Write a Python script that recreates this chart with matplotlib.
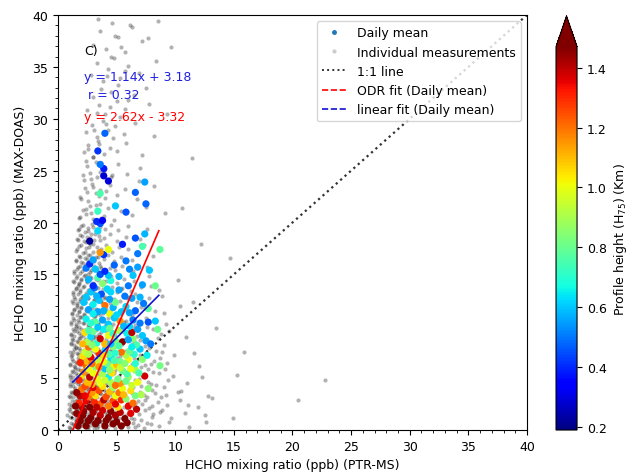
import numpy as np
import matplotlib
matplotlib.use('Agg')
import matplotlib.pyplot as plt
from matplotlib.lines import Line2D
from matplotlib.ticker import MultipleLocator

ind_low = [
    (0.9,0.3),(1.1,0.7),(1.2,0.1),(1.4,0.5),(1.5,0.9),(1.7,0.2),(1.8,0.6),(2.0,0.4),(2.1,0.8),(2.3,0.3),(2.4,0.7),(2.6,0.1),
    (2.8,0.5),(2.9,0.9),(3.1,0.2),(3.3,0.6),(3.4,0.4),(3.6,0.8),(3.8,0.3),(4.0,0.7),(4.2,0.1),(4.4,0.5),(4.6,0.9),(4.9,0.2),
    (5.1,0.6),(5.4,0.4),(5.7,0.8),(6.0,0.3),(6.4,0.7),(6.8,0.5),(7.3,0.2),(7.9,0.6),(8.6,0.4),(9.5,0.8),(11.2,0.3),
    (0.8,1.4),(1.0,1.8),(1.2,1.2),(1.3,1.6),(1.5,1.1),(1.6,1.9),(1.8,1.5),(2.0,1.3),(2.2,1.7),(2.3,1.1),(2.5,1.5),(2.7,1.9),
    (2.9,1.3),(3.0,1.7),(3.2,1.2),(3.4,1.6),(3.6,1.4),(3.8,1.8),(4.0,1.1),(4.2,1.5),(4.4,1.9),(4.7,1.3),(4.9,1.7),(5.2,1.2),
    (5.5,1.6),(5.8,1.4),(6.1,1.8),(6.5,1.1),(6.9,1.5),(7.4,1.9),(8.0,1.3),(8.7,1.7),(9.6,1.2),(10.8,1.6),(12.5,1.4),
    (0.9,2.5),(1.1,2.2),(1.2,2.8),(1.4,2.4),(1.6,2.9),(1.7,2.1),(1.9,2.6),(2.1,2.3),(2.3,2.8),(2.5,2.2),(2.7,2.6),(2.9,2.9),
    (3.1,2.4),(3.3,2.1),(3.5,2.7),(3.7,2.3),(3.9,2.8),(4.2,2.5),(4.4,2.1),(4.7,2.7),(5.0,2.4),(5.3,2.9),(5.6,2.2),(6.0,2.6),
    (6.4,2.3),(6.8,2.8),(7.2,2.5),(7.8,2.1),(8.5,2.7),(9.3,2.4),(10.4,2.9),(11.9,2.2),
    (0.9,3.3),(1.1,3.7),(1.3,3.2),(1.4,3.8),(1.6,3.5),(1.8,3.1),(2.0,3.6),(2.2,3.9),(2.4,3.4),(2.6,3.8),(2.8,3.2),(3.0,3.6),
    (3.2,3.3),(3.4,3.9),(3.7,3.5),(3.9,3.1),(4.1,3.7),(4.4,3.4),(4.7,3.8),(5.0,3.2),(5.3,3.6),(5.7,3.4),(6.1,3.9),(6.5,3.3),
    (7.0,3.7),(7.6,3.2),(8.3,3.6),(9.2,3.4),(10.5,3.8),(12.8,3.3),
    (1.0,4.4),(1.1,4.8),(1.3,4.2),(1.5,4.6),(1.7,4.9),(1.9,4.3),(2.1,4.7),(2.3,4.1),(2.5,4.5),(2.7,4.9),(2.9,4.3),(3.2,4.7),
    (3.4,4.2),(3.6,4.6),(3.9,4.4),(4.1,4.8),(4.4,4.2),(4.7,4.6),(5.0,4.9),(5.3,4.3),(5.7,4.7),(6.1,4.4),(6.6,4.8),(7.1,4.2),
    (7.7,4.6),(8.4,4.3),(9.4,4.8),(11.0,4.5),
    (1.0,5.3),(1.2,5.7),(1.3,5.1),(1.5,5.5),(1.7,5.9),(1.9,5.2),(2.1,5.6),(2.3,5.4),(2.6,5.8),(2.8,5.2),(3.0,5.6),(3.3,5.3),
    (3.5,5.9),(3.8,5.5),(4.0,5.1),(4.3,5.7),(4.6,5.4),(4.9,5.8),(5.2,5.2),(5.6,5.6),(6.0,5.3),(6.5,5.7),(7.0,5.4),(7.7,5.9),
    (8.6,5.5),(9.8,5.2),
    (1.0,6.4),(1.2,6.8),(1.4,6.2),(1.5,6.6),(1.7,6.9),(1.9,6.3),(2.1,6.7),(2.4,6.1),(2.6,6.5),(2.8,6.9),(3.1,6.4),(3.3,6.8),
    (3.6,6.2),(3.8,6.6),(4.1,6.3),(4.4,6.7),(4.7,6.5),(5.0,6.9),(5.4,6.2),(5.8,6.6),(6.3,6.4),(6.8,6.8),(7.4,6.3),(8.2,6.7),
    (9.3,6.5),
    (1.0,7.5),(1.2,7.2),(1.4,7.8),(1.6,7.4),(1.8,7.9),(2.0,7.3),(2.2,7.7),(2.4,7.1),(2.7,7.5),(2.9,7.9),(3.2,7.4),(3.4,7.8),
    (3.7,7.2),(3.9,7.6),(4.2,7.3),(4.5,7.7),(4.9,7.5),(5.3,7.1),(5.7,7.6),(6.2,7.3),(6.8,7.8),(7.5,7.4),(8.4,7.6),(9.9,7.2),
    (1.1,8.4),(1.2,8.8),(1.4,8.2),(1.6,8.6),(1.8,8.9),(2.0,8.3),(2.3,8.7),(2.5,8.1),(2.7,8.5),(3.0,8.9),(3.2,8.3),(3.5,8.7),
    (3.8,8.4),(4.1,8.8),(4.4,8.2),(4.8,8.6),(5.2,8.4),(5.7,8.8),(6.3,8.3),(7.0,8.7),(7.8,8.5),(9.0,8.2),
    (1.1,9.3),(1.3,9.7),(1.4,9.1),(1.6,9.5),(1.8,9.9),(2.0,9.2),(2.2,9.6),(2.5,9.4),(2.7,9.8),(3.0,9.2),(3.2,9.6),(3.5,9.3),
    (3.8,9.7),(4.1,9.5),(4.5,9.9),(4.9,9.2),(5.3,9.6),(5.8,9.4),(6.4,9.8),(7.2,9.3),(8.1,9.7),(9.5,9.5),
]
ind_mid = [
    (1.1,10.4),(1.3,10.8),(1.5,10.2),(1.7,10.6),(1.9,10.9),(2.1,10.3),(2.4,10.7),(2.6,10.1),(2.9,10.5),(3.1,10.9),(3.4,10.3),
    (3.7,10.7),(4.0,10.4),(4.3,10.8),(4.7,10.2),(5.1,10.6),(5.6,10.4),(6.2,10.8),(7.0,10.3),(8.3,10.6),
    (1.2,11.3),(1.4,11.7),(1.6,11.1),(1.8,11.5),(2.0,11.9),(2.2,11.2),(2.4,11.6),(2.7,11.4),(2.9,11.8),(3.2,11.2),(3.5,11.6),
    (3.8,11.3),(4.1,11.7),(4.4,11.5),(4.8,11.9),(5.3,11.2),(5.8,11.6),(6.5,11.4),(7.4,11.8),(9.0,11.3),
    (1.2,12.4),(1.4,12.8),(1.6,12.2),(1.9,12.6),(2.1,12.9),(2.3,12.3),(2.6,12.7),(2.8,12.1),(3.1,12.5),(3.4,12.9),(3.7,12.4),
    (4.0,12.8),(4.4,12.2),(4.8,12.6),(5.3,12.4),(5.9,12.8),(6.7,12.3),(7.8,12.7),
    (1.3,13.3),(1.5,13.7),(1.7,13.1),(1.9,13.5),(2.2,13.9),(2.4,13.2),(2.7,13.6),(2.9,13.4),(3.2,13.8),(3.5,13.2),(3.8,13.6),
    (4.2,13.4),(4.6,13.8),(5.0,13.3),(5.5,13.7),(6.2,13.4),(7.1,13.8),(8.6,13.5),
    (1.3,14.4),(1.6,14.8),(1.8,14.2),(2.0,14.6),(2.3,14.9),(2.5,14.3),(2.8,14.7),(3.1,14.1),(3.4,14.5),(3.7,14.9),(4.1,14.4),
    (4.5,14.8),(5.0,14.2),(5.6,14.6),(6.5,14.4),(7.8,14.8),
    (1.4,15.3),(1.7,15.7),(1.9,15.1),(2.2,15.5),(2.4,15.9),(2.7,15.2),(3.0,15.6),(3.3,15.4),(3.6,15.8),(4.0,15.2),(4.4,15.6),
    (4.9,15.4),(5.5,15.8),(6.4,15.3),(7.6,15.7),
    (1.5,16.4),(1.8,16.8),(2.0,16.2),(2.3,16.6),(2.6,16.9),(2.9,16.3),(3.2,16.7),(3.5,16.1),(3.9,16.5),(4.3,16.9),(4.8,16.3),
    (5.4,16.7),(6.3,16.4),(8.1,16.8),
    (1.5,17.3),(1.8,17.7),(2.1,17.1),(2.4,17.5),(2.7,17.9),(3.0,17.2),(3.3,17.6),(3.7,17.4),(4.1,17.8),(4.6,17.2),(5.2,17.6),
    (6.0,17.4),(7.3,17.8),
    (1.6,18.4),(1.9,18.8),(2.2,18.2),(2.5,18.6),(2.8,18.9),(3.1,18.3),(3.5,18.7),(3.9,18.5),(4.4,18.9),(5.0,18.2),(5.8,18.6),
    (7.0,18.4),
    (1.7,19.3),(2.0,19.7),(2.3,19.1),(2.6,19.5),(2.9,19.9),(3.2,19.2),(3.6,19.6),(4.0,19.4),(4.5,19.8),(5.1,19.3),(6.0,19.7),
    (7.6,19.4),
]
ind_high = [
    (1.8,20.4),(2.1,21.2),(2.4,20.8),(2.7,21.6),(3.0,20.3),(3.3,21.0),(3.6,21.8),(3.9,20.6),(4.3,21.4),(4.8,20.2),(5.4,21.1),
    (6.3,20.7),(7.5,21.5),(9.1,20.9),
    (1.9,22.5),(2.3,23.3),(2.6,22.1),(2.9,23.7),(3.2,22.8),(3.6,23.1),(4.0,22.4),(4.4,23.6),(5.0,22.7),(5.7,23.2),(6.7,22.3),
    (8.2,23.5),
    (2.1,24.6),(2.5,25.4),(2.8,24.2),(3.2,25.8),(3.6,24.9),(4.0,25.2),(4.5,24.4),(5.1,25.6),(5.9,24.7),(7.0,25.3),
    (2.2,26.8),(2.6,27.5),(3.0,26.3),(3.4,27.9),(3.9,26.6),(4.4,27.2),(5.0,26.9),(5.8,27.7),(7.2,26.5),
    (2.4,28.7),(2.9,29.4),(3.3,28.2),(3.8,29.8),(4.3,28.9),(4.9,29.3),(5.6,28.5),(6.6,29.6),
    (2.5,30.8),(3.0,32.1),(3.5,31.3),(4.0,30.5),(4.5,32.6),(5.0,31.7),(5.7,30.9),(6.5,32.3),(7.8,31.4),
    (2.8,34.2),(3.3,35.4),(3.8,33.6),(4.3,34.8),(4.8,35.9),(5.3,33.9),(6.0,35.1),(6.9,34.4),(8.4,35.6),
    (3.0,37.1),(3.6,38.5),(4.1,36.7),(4.6,39.2),(5.1,37.9),(5.7,36.4),(6.3,38.8),(7.2,37.5),(8.5,39.4),(9.6,36.9),
    (2.6,27.1),(3.5,27.6),(4.7,28.1),(3.1,28.9),(4.1,29.5),(5.3,30.2),(3.3,30.6),(4.4,31.1),(6.0,31.8),(3.7,32.9),
    (5.1,33.3),(4.2,34.1),(5.7,34.6),(4.5,36.0),(5.4,36.9),(4.9,38.0),(6.1,39.0),(3.4,39.6),(7.5,33.0),(8.2,28.3),
    (6.9,24.0),(9.3,30.5),(7.7,37.8),
]
# the near-black core of the cloud
ind_core = [
    (1.05,0.15),(1.3,0.55),(1.55,0.85),(1.8,0.35),(2.05,0.65),(2.3,0.95),(2.55,0.25),(2.8,0.75),(3.05,0.45),(3.3,0.15),
    (3.55,0.85),(3.8,0.55),(4.05,0.25),(4.35,0.95),(4.65,0.45),(5.0,0.75),(5.35,0.15),
    (1.0,1.25),(1.25,1.65),(1.5,1.35),(1.75,1.05),(2.0,1.85),(2.25,1.45),(2.5,1.15),(2.75,1.75),(3.0,1.55),(3.25,1.95),
    (3.5,1.05),(3.75,1.45),(4.0,1.75),(4.3,1.25),(4.6,1.65),(4.95,1.05),(5.3,1.85),
    (0.95,2.05),(1.2,2.45),(1.45,2.75),(1.7,2.35),(1.95,2.95),(2.2,2.15),(2.45,2.55),(2.7,2.85),(2.95,2.15),(3.2,2.65),
    (3.45,2.35),(3.7,2.95),(4.0,2.45),(4.3,2.75),(4.6,2.25),(4.95,2.55),(5.3,2.05),
    (1.0,3.15),(1.2,3.55),(1.45,3.85),(1.65,3.25),(1.9,3.65),(2.15,3.05),(2.35,3.45),(2.6,3.95),(2.85,3.35),(3.1,3.75),
    (3.35,3.15),(3.6,3.55),(3.9,3.85),(4.2,3.25),(4.5,3.65),(4.85,3.05),
    (1.0,4.25),(1.25,4.65),(1.45,4.05),(1.7,4.45),(1.9,4.85),(2.15,4.35),(2.4,4.75),(2.6,4.15),(2.85,4.55),(3.1,4.95),
    (3.35,4.35),(3.6,4.75),(3.85,4.15),(4.15,4.55),(4.45,4.85),(4.8,4.35),
    (1.05,5.15),(1.25,5.55),(1.45,5.85),(1.65,5.35),(1.9,5.75),(2.1,5.05),(2.35,5.45),(2.55,5.95),(2.8,5.35),(3.05,5.65),
    (3.3,5.05),(3.55,5.45),(3.8,5.85),(4.1,5.25),(4.4,5.65),(4.75,5.45),
    (1.05,6.25),(1.25,6.65),(1.45,6.05),(1.65,6.45),(1.85,6.85),(2.05,6.35),(2.3,6.75),(2.5,6.15),(2.75,6.55),(3.0,6.95),
    (3.25,6.25),(3.5,6.65),(3.75,6.05),(4.05,6.45),(4.35,6.85),(4.7,6.25),
    (1.1,7.15),(1.3,7.55),(1.5,7.95),(1.7,7.35),(1.9,7.75),(2.1,7.05),(2.35,7.45),(2.55,7.85),(2.8,7.25),(3.05,7.65),
    (3.3,7.05),(3.55,7.45),(3.8,7.85),(4.1,7.25),(4.45,7.65),
    (1.1,8.25),(1.3,8.65),(1.5,8.05),(1.7,8.45),(1.9,8.85),(2.1,8.35),(2.35,8.75),(2.55,8.15),(2.8,8.55),(3.05,8.95),
    (3.3,8.25),(3.6,8.65),(3.9,8.05),(4.2,8.45),
    (1.15,9.15),(1.35,9.55),(1.55,9.85),(1.75,9.35),(1.95,9.75),(2.15,9.05),(2.4,9.45),(2.6,9.85),(2.85,9.25),(3.1,9.65),
    (3.35,9.05),(3.65,9.45),(3.95,9.85),(4.25,9.25),
    (1.15,10.25),(1.35,10.65),(1.55,10.05),(1.75,10.45),(1.95,10.85),(2.2,10.35),(2.4,10.75),(2.65,10.15),(2.9,10.55),
    (3.15,10.95),(3.45,10.25),(3.75,10.65),(4.05,10.05),
    (1.2,11.15),(1.4,11.55),(1.6,11.85),(1.8,11.35),(2.0,11.75),(2.25,11.05),(2.5,11.45),(2.7,11.85),(2.95,11.25),
    (3.25,11.65),(3.55,11.05),(3.85,11.45),
    (1.25,12.25),(1.45,12.65),(1.65,12.05),(1.85,12.45),(2.05,12.85),(2.3,12.35),(2.55,12.75),(2.8,12.15),(3.05,12.55),
    (3.35,12.95),(3.65,12.35),(3.95,12.75),
    (1.3,13.15),(1.5,13.55),(1.7,13.85),(1.9,13.35),(2.1,13.75),(2.35,13.05),(2.6,13.45),(2.85,13.85),(3.1,13.25),
    (3.4,13.65),(3.7,13.05),
    (1.35,14.25),(1.55,14.65),(1.75,14.05),(1.95,14.45),(2.2,14.85),(2.45,14.35),(2.7,14.75),(2.95,14.15),(3.25,14.55),
    (3.55,14.95),(3.85,14.35),
    (1.4,15.15),(1.6,15.55),(1.85,15.85),(2.05,15.35),(2.3,15.75),(2.55,15.05),(2.8,15.45),(3.1,15.85),(3.4,15.25),
    (3.7,15.65),
    (1.5,16.3),(1.85,16.7),(2.15,16.1),(2.45,16.5),(2.75,16.9),(3.1,16.3),(3.45,16.7),(1.6,17.4),(1.95,17.8),(2.3,17.2),
    (2.65,17.6),(3.0,17.9),(3.4,17.3),(1.7,18.3),(2.05,18.7),(2.4,18.1),(2.75,18.5),(3.15,18.9),(3.6,18.3),(1.8,19.4),
    (2.15,19.8),(2.55,19.2),(2.95,19.6),(3.4,19.1),
    (1.9,20.5),(2.35,21.3),(2.8,20.9),(3.25,21.7),(3.7,20.4),(2.0,22.3),(2.5,22.9),(3.0,23.4),(3.5,22.6),(4.1,23.0),
    (2.2,24.1),(2.7,24.8),(3.3,24.4),(3.9,25.0),(4.6,24.6),(2.4,25.9),(3.0,26.3),(3.7,25.7),
]
# right-hand shoulder of the cloud and lone outliers
ind_far = [
    (5.6,0.6),(6.2,1.2),(6.6,0.3),(7.1,1.0),(7.6,0.7),(8.1,1.5),(5.9,2.1),(6.6,2.5),(7.4,2.9),(8.0,2.3),(8.9,1.9),
    (5.8,3.1),(6.3,3.6),(7.3,3.4),(8.0,3.9),(8.8,3.2),(5.5,4.4),(6.4,4.1),(6.9,4.9),(7.9,4.4),(9.0,4.1),(5.7,5.5),
    (6.3,5.9),(7.3,5.2),(8.1,5.6),(9.1,5.9),(5.6,6.5),(6.5,6.9),(7.1,6.1),(7.9,6.4),(8.7,6.9),(5.4,7.4),(6.1,7.9),
    (7.0,7.2),(7.8,7.9),(8.9,7.5),(5.5,8.3),(6.5,8.6),(7.4,8.1),(8.5,8.9),(5.6,9.4),(6.7,9.1),(7.6,9.9),(8.8,9.3),
    (5.8,10.5),(6.6,10.1),(7.5,10.8),(9.2,10.2),(5.5,11.6),(6.3,11.1),(7.1,11.9),(8.3,11.5),(5.9,12.7),(7.2,12.4),
    (8.9,12.9),(5.4,13.6),(6.6,13.1),(7.9,13.9),(10.4,12.0),(10.9,9.0),(11.6,7.4),(10.2,3.7),(11.1,2.4),(12.3,5.1),
    (12.0,6.2),(13.5,9.8),(14.7,16.6),(15.3,5.3),(15.9,7.5),(14.9,1.2),(20.5,2.9),(22.8,4.8),(11.5,12.3),(12.2,17.9),
    (10.6,21.4),(11.4,26.2),(13.1,3.1),(10.2,14.5),(12.6,0.8),
]

# daily means: (PTR-MS, MAX-DOAS, profile height H75 in km)
mean_low = [
    (1.7,0.4,1.5),(2.4,0.4,1.5),(3.2,0.6,1.5),(4.0,0.4,1.5),(4.7,0.6,1.5),(5.4,0.4,1.5),
    (2.1,1.4,1.5),(2.8,1.2,1.48),(3.6,1.4,1.4),(4.3,1.2,1.5),(4.9,1.4,1.42),(5.7,1.1,1.5),
    (1.9,0.9,1.5),(2.2,1.8,1.45),(2.6,0.9,1.5),(3.0,1.7,1.42),(3.4,0.9,1.5),(3.8,1.9,1.38),(4.1,0.9,1.5),(4.5,1.8,1.45),
    (5.0,0.8,1.5),(5.3,1.7,1.4),(5.9,0.7,1.5),(6.2,1.6,1.35),(1.6,1.6,1.45),(6.7,2.0,1.4),
    (2.0,2.3,1.4),(2.7,2.2,1.47),(3.6,2.5,1.22),(4.3,2.3,1.18),(5.1,2.2,1.05),(6.0,2.3,1.35),
    (2.4,2.8,1.35),(3.1,2.7,1.3),(3.9,2.9,1.4),(4.7,2.8,1.25),(5.4,2.9,1.3),(1.8,2.6,1.3),
    (1.9,3.3,1.4),(2.6,3.2,1.2),(3.2,3.3,1.05),(4.1,3.2,1.25),(4.9,3.3,1.0),(5.8,3.0,0.85),(6.6,3.3,0.82),
    (2.9,3.6,1.15),(3.5,3.8,1.25),(4.4,3.7,1.1),(5.2,3.6,1.2),(6.2,3.8,1.05),(2.0,3.9,1.2),
    (2.3,4.2,1.25),(3.0,4.1,1.35),(3.8,4.2,1.05),(4.7,4.1,0.88),(5.5,4.0,1.0),(7.7,4.0,0.85),
    (2.5,4.6,1.1),(3.6,4.5,1.0),(4.5,4.6,0.9),(5.3,4.5,1.15),(6.3,4.3,0.95),(6.8,4.6,1.0),
    (1.6,3.6,1.45),(1.5,2.3,1.5),(2.3,3.3,1.35),(3.3,2.2,1.4),(4.9,2.5,1.35),(5.6,3.4,1.1),(6.4,2.6,1.2),(7.1,3.4,0.9),
]
mean_mid = [
    (2.0,5.2,1.05),(2.7,5.1,1.4),(3.4,4.9,0.98),(4.3,5.1,0.65),(5.1,4.9,0.82),(6.0,5.1,0.88),(7.4,5.2,1.38),
    (2.2,5.6,1.15),(3.0,5.5,1.0),(3.8,5.4,0.9),(4.6,5.5,1.05),(5.9,5.4,0.75),(6.6,5.8,0.9),
    (2.4,6.2,1.22),(3.2,6.1,0.85),(4.0,5.9,0.6),(4.7,6.1,1.0),(5.5,5.7,0.8),(6.2,5.9,1.0),(8.7,6.2,0.82),
    (2.5,6.6,1.1),(3.3,6.5,0.95),(4.2,6.4,0.8),(5.0,6.3,1.1),(6.6,6.4,0.7),(7.2,6.8,0.85),
    (2.1,7.1,1.05),(2.8,7.0,1.35),(3.7,6.8,0.92),(4.5,7.0,0.62),(5.3,6.6,0.8),(6.0,6.8,1.0),
    (2.3,7.5,0.95),(3.5,7.4,1.3),(4.4,7.3,0.75),(5.8,7.2,0.9),(6.5,7.3,0.7),(7.6,7.2,0.65),
    (2.6,8.0,1.2),(3.2,7.8,1.0),(4.0,7.6,0.65),(4.7,8.0,0.85),(5.4,7.5,1.2),(6.1,7.6,0.8),(7.0,7.8,0.6),
    (2.5,8.5,0.9),(3.3,8.4,0.7),(4.0,8.3,1.1),(6.7,8.2,0.75),(7.5,8.6,0.55),(7.9,8.3,0.5),
    (2.3,9.4,1.05),(2.8,9.0,0.62),(3.6,8.8,1.38),(4.3,9.1,1.0),(4.9,8.6,0.82),(5.5,8.5,1.45),(6.4,8.8,0.85),(7.2,9.1,0.6),
    (3.0,9.5,0.8),(3.9,9.7,0.65),(4.7,9.3,0.7),(5.2,9.6,0.9),(5.9,9.3,0.65),(6.3,9.4,1.4),(6.8,9.7,0.55),(8.5,9.7,0.8),
    (2.4,10.7,0.65),(3.2,10.4,0.78),(4.3,10.2,0.6),(5.3,10.5,1.15),(6.1,10.0,0.62),(7.7,10.4,0.45),(8.3,10.5,0.6),
    (3.4,11.4,0.55),(4.4,11.2,1.0),(5.4,11.4,0.6),(6.6,11.5,0.48),(7.7,11.7,0.78),(2.6,11.6,0.55),(4.7,11.8,0.58),
    (5.8,11.9,0.62),(3.0,12.1,0.65),(4.0,12.0,1.2),(4.9,12.3,0.8),(3.5,12.5,0.6),(6.3,12.7,0.55),(7.3,12.2,0.5),
    (2.4,12.8,0.6),(5.7,12.9,0.5),(7.0,12.8,0.58),(2.8,13.3,0.6),(3.7,13.1,0.45),(4.5,13.3,0.62),
    (1.8,4.8,1.3),(2.9,4.4,1.1),(4.0,4.8,0.95),(4.9,4.3,1.2),(5.8,4.7,0.8),(2.6,5.9,1.0),(3.5,6.1,1.15),(4.4,5.8,0.85),
    (5.3,6.0,0.95),(6.9,5.5,0.75),(2.9,6.4,1.2),(3.9,6.6,1.0),(4.8,6.7,0.75),(5.7,6.4,0.85),(1.9,6.5,1.3),(2.6,7.3,0.9),
    (3.9,7.2,1.05),(4.9,7.4,0.7),(6.3,8.0,0.65),(2.1,8.3,1.1),(2.9,8.2,0.85),(4.5,8.3,0.6),(5.2,8.1,0.75),(6.0,8.7,0.55),
    (2.6,9.6,0.75),(3.4,9.9,0.6),(4.4,9.8,0.8),(5.6,10.0,0.58),(7.0,10.3,0.5),(2.8,10.3,0.7),(3.8,10.6,0.55),
    (4.8,10.8,0.6),(6.4,10.6,0.5),(3.0,11.2,0.65),(3.9,11.5,0.58),(5.0,11.1,0.62),(6.1,11.3,0.55),(2.2,12.3,0.6),
    (3.3,12.9,0.58),(4.4,12.6,0.55),
]
mean_high = [
    (3.1,13.7,0.5),(4.2,13.6,0.62),(5.2,13.5,0.55),(6.0,13.9,0.5),(7.2,14.0,0.55),(3.0,13.9,0.4),(3.8,14.1,0.85),
    (8.3,13.9,0.8),(4.5,14.4,0.68),(2.6,14.5,0.58),(3.4,14.7,0.75),(4.3,14.9,0.6),(6.4,14.9,0.6),(3.6,15.0,0.45),
    (5.2,14.8,0.58),(3.2,15.5,0.6),(4.0,15.3,0.4),(6.1,15.5,0.52),(6.8,15.7,0.55),(2.4,15.6,0.5),(4.8,15.9,0.48),
    (7.8,15.4,0.6),(2.7,16.0,0.4),(3.0,16.4,0.55),(5.8,16.3,0.5),(3.9,16.9,0.42),(6.8,17.0,0.5),(3.6,17.1,1.15),
    (4.3,17.4,1.0),(8.7,17.4,0.78),(7.2,17.7,0.75),(5.5,17.9,0.38),(2.7,18.2,0.22),(6.6,18.5,0.45),(7.4,18.9,0.58),
    (3.4,19.2,0.62),(3.6,19.9,0.45),(3.3,20.1,0.4),(3.8,20.2,0.35),(3.4,21.1,0.72),(5.8,21.0,0.45),(4.9,21.6,0.6),
    (7.5,21.8,0.48),(3.6,22.8,0.75),(6.6,22.9,0.48),(7.4,23.9,0.55),(4.3,24.0,0.3),(3.9,24.5,0.28),(3.9,25.2,0.38),
    (3.6,25.6,0.5),(3.4,26.9,0.42),(4.0,28.6,0.48),
]

# fit results written on the chart
lin_slope, lin_icpt, lin_r = 1.14, 3.18, 0.32
odr_slope, odr_icpt = 2.62, -3.32
fit_x = [1.27, 8.6]

ind = np.array(ind_low + ind_mid + ind_high + ind_core + ind_far)
dm = np.array(mean_low + mean_mid + mean_high)

fig = plt.figure(figsize=(6.29, 4.77), dpi=100)
ax = fig.add_axes([0.0922, 0.0964, 0.7456, 0.870])
cax = fig.add_axes([0.884, 0.0964, 0.0334, 0.868])

ax.plot([0, 40], [0, 40], ls=':', color='#333333', lw=1.6, zorder=0.5)
ax.scatter(ind[:, 0], ind[:, 1], s=9, c='k', alpha=0.3, linewidths=0, zorder=1)
sc = ax.scatter(dm[:, 0], dm[:, 1], c=dm[:, 2], s=27, cmap='jet', vmin=0.19, vmax=1.47,
                linewidths=0, zorder=2)

xl = np.array(fit_x)
ax.plot(xl, odr_slope * xl + odr_icpt, color='red', lw=1.2, zorder=3)
ax.plot(xl, lin_slope * xl + lin_icpt, color='#1010d0', lw=1.2, zorder=3)

ax.text(2.2, 36.2, 'C)', fontsize=9)
ax.text(2.2, 33.7, f'y = {lin_slope:.2f}x + {lin_icpt:.2f}', color='#2020e0', fontsize=9)
ax.text(2.6, 32.0, f'r = {lin_r:.2f}', color='#2020e0', fontsize=9)
ax.text(2.2, 29.9, f'y = {odr_slope:.2f}x - {abs(odr_icpt):.2f}', color='red', fontsize=9)

ax.set_xlim(0, 40)
ax.set_ylim(0, 40)
ax.xaxis.set_major_locator(MultipleLocator(5))
ax.yaxis.set_major_locator(MultipleLocator(5))
ax.xaxis.set_minor_locator(MultipleLocator(1))
ax.yaxis.set_minor_locator(MultipleLocator(1))
ax.tick_params(labelsize=9)
ax.set_xlabel('HCHO mixing ratio (ppb) (PTR-MS)', fontsize=9)
ax.set_ylabel('HCHO mixing ratio (ppb) (MAX-DOAS)', fontsize=9)

handles = [
    Line2D([], [], ls='', marker='o', ms=2.5, color='#1f77b4'),
    Line2D([], [], ls='', marker='o', ms=2, color='#cccccc'),
    Line2D([], [], ls=':', color='#333333', lw=1.4),
    Line2D([], [], ls='--', color='red', lw=1.2),
    Line2D([], [], ls='--', color='#1010d0', lw=1.2),
]
labels = ['Daily mean', 'Individual measurements', '1:1 line',
          'ODR fit (Daily mean)', 'linear fit (Daily mean)']
ax.legend(handles, labels, loc='upper right', fontsize=9, handlelength=2)

cb = fig.colorbar(sc, cax=cax, extend='max', extendfrac=0.08)
cb.set_ticks([0.2, 0.4, 0.6, 0.8, 1.0, 1.2, 1.4])
cb.ax.tick_params(labelsize=9)
cb.set_label('Profile height (H$_{75}$) (Km)', fontsize=9)

fig.savefig('out.png', dpi=100)
